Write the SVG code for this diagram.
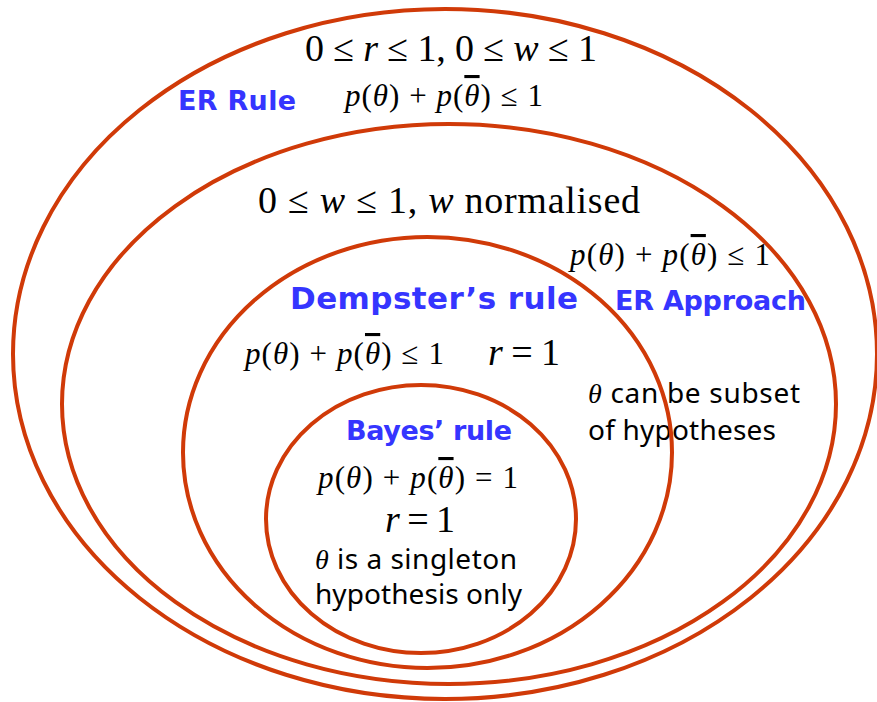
<svg xmlns="http://www.w3.org/2000/svg" width="877" height="702" viewBox="0 0 877 702">
<style>
.ring{fill:none;stroke:#D03A08;stroke-width:4}
.m{font-family:"Liberation Serif","Times New Roman",serif;fill:#000}
.i{font-style:italic}
.bar{text-decoration:overline}
.lbl{font-family:"DejaVu Sans",Verdana,sans-serif;font-weight:bold;fill:#3535FF}
.t{font-family:"Noto Sans","DejaVu Sans",sans-serif;fill:#000}
</style>
<rect width="877" height="702" fill="#fff"/>
<g id="er-rule">
<ellipse class="ring" cx="445" cy="354" rx="432" ry="345"/>
<text class="m" x="305" y="61" font-size="38" textLength="292">0 ≤ <tspan class="i">r</tspan> ≤ 1, 0 ≤ <tspan class="i">w</tspan> ≤ 1</text>
<text class="lbl" x="178" y="110" font-size="27" textLength="118">ER Rule</text>
<text class="m" x="345" y="106" font-size="31" textLength="198"><tspan class="i">p</tspan>(<tspan class="i">θ</tspan>) + <tspan class="i">p</tspan>(<tspan class="i bar">θ</tspan>) ≤ 1</text>
</g>
<g id="er-approach">
<ellipse class="ring" cx="449" cy="404" rx="387" ry="280"/>
<text class="m" x="258" y="213" font-size="38" textLength="382">0 ≤ <tspan class="i">w</tspan> ≤ 1, <tspan class="i">w</tspan> normalised</text>
<text class="m" x="570" y="265" font-size="31" textLength="200"><tspan class="i">p</tspan>(<tspan class="i">θ</tspan>) + <tspan class="i">p</tspan>(<tspan class="i bar">θ</tspan>) ≤ 1</text>
<text class="lbl" x="615" y="310" font-size="27" textLength="191">ER Approach</text>
<text class="t" x="588" y="403" font-size="28" textLength="212"><tspan class="m i">θ</tspan> can be subset</text>
<text class="t" x="588" y="440" font-size="28" textLength="188">of hypotheses</text>
</g>
<g id="dempster">
<ellipse class="ring" cx="427.5" cy="452.5" rx="244.5" ry="215.5"/>
<text class="lbl" x="290" y="309" font-size="31" textLength="288">Dempster’s rule</text>
<text class="m" x="245" y="364" font-size="31" textLength="199"><tspan class="i">p</tspan>(<tspan class="i">θ</tspan>) + <tspan class="i">p</tspan>(<tspan class="i bar">θ</tspan>) ≤ 1</text>
<text class="m" x="488" y="365" font-size="38" textLength="72"><tspan class="i">r</tspan> = 1</text>
</g>
<g id="bayes">
<ellipse class="ring" cx="421" cy="519" rx="155" ry="134"/>
<text class="lbl" x="346" y="440" font-size="27" textLength="166">Bayes’ rule</text>
<text class="m" x="318" y="488" font-size="31" textLength="200"><tspan class="i">p</tspan>(<tspan class="i">θ</tspan>) + <tspan class="i">p</tspan>(<tspan class="i bar">θ</tspan>) = 1</text>
<text class="m" x="385" y="532" font-size="38" textLength="70"><tspan class="i">r</tspan> = 1</text>
<text class="t" x="315" y="569" font-size="28" textLength="202"><tspan class="m i">θ</tspan> is a singleton</text>
<text class="t" x="315" y="604" font-size="28" textLength="207">hypothesis only</text>
</g>
</svg>
